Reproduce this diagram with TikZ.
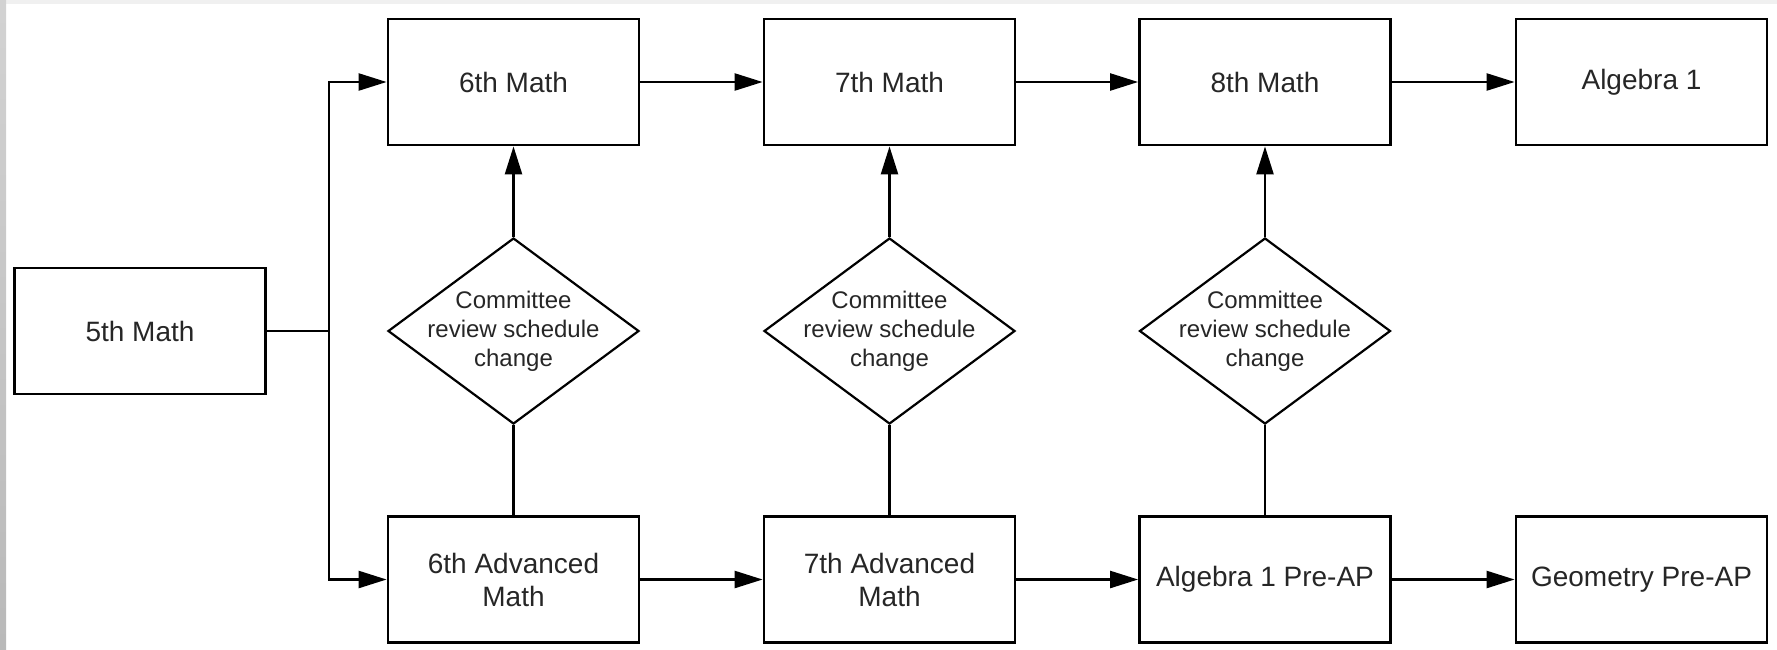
\documentclass[tikz,border=0pt]{standalone}
\usepackage{fontspec}
\setmainfont{Liberation Sans}
\usetikzlibrary{shapes.geometric, arrows.meta}

\tikzset{
    course/.style={draw, line width=1.4pt, minimum width=125.5pt, minimum height=63pt,
        align=center, inner sep=2pt, text=black!85, font=\fontsize{14}{16.5}\selectfont},
    review/.style={draw, diamond, line width=1.1pt, minimum width=125.5pt, minimum height=93pt,
        inner sep=0pt},
    reviewtext/.style={align=center, text=black!85, font=\fontsize{12}{14.5}\selectfont},
    flow/.style={line width=1.2pt},
    arr/.style={flow, -{Triangle[length=14pt, width=8.5pt]}}
}

\begin{document}
\begin{tikzpicture}[x=0.5pt, y=-0.5pt]
        \useasboundingbox (0, 0) rectangle (1777, 649);
        % frame of the screenshot
        \fill[gray!12] (0, 0) rectangle (1777, 4);
        \shade[top color=gray!35, bottom color=gray!55] (0, 0) rectangle (6, 649);

        % courses
        \node[course] (m5) at (140, 331) {5th Math};
        \node[course] (m6) at (513.5, 82) {6th Math};
        \node[course] (m7) at (889.5, 82) {7th Math};
        \node[course] (m8) at (1265, 82) {8th Math};
        \node[course] (alg) at (1641.5, 82) {Algebra 1};
        \node[course] (adv6) at (513.5, 579.5) {6th Advanced\\Math};
        \node[course] (adv7) at (889.5, 579.5) {7th Advanced\\Math};
        \node[course] (algap) at (1265, 579.5) {Algebra 1 Pre-AP};
        \node[course] (geoap) at (1641.5, 579.5) {Geometry Pre-AP};

        % committee reviews
        \node[review, label={[reviewtext]center:Committee\\review schedule\\change}] (rev6) at (513.5, 331) {};
        \node[review, label={[reviewtext]center:Committee\\review schedule\\change}] (rev7) at (889.5, 331) {};
        \node[review, label={[reviewtext]center:Committee\\review schedule\\change}] (rev8) at (1265, 331) {};

        % branch after 5th grade
        \coordinate (split) at (329, 331);
        \draw[flow] (m5.east) -- (split);
        \draw[arr] (split) |- (m6.west);
        \draw[arr] (split) |- (adv6.west);

        % regular track
        \draw[arr] (m6) -- (m7);
        \draw[arr] (m7) -- (m8);
        \draw[arr] (m8) -- (alg);

        % advanced track
        \draw[arr] (adv6) -- (adv7);
        \draw[arr] (adv7) -- (algap);
        \draw[arr] (algap) -- (geoap);

        % schedule changes
        \draw[flow] (adv6) -- (rev6);
        \draw[arr] (rev6) -- (m6);
        \draw[flow] (adv7) -- (rev7);
        \draw[arr] (rev7) -- (m7);
        \draw[flow] (algap) -- (rev8);
        \draw[arr] (rev8) -- (m8);
    \end{tikzpicture}
\end{document}
